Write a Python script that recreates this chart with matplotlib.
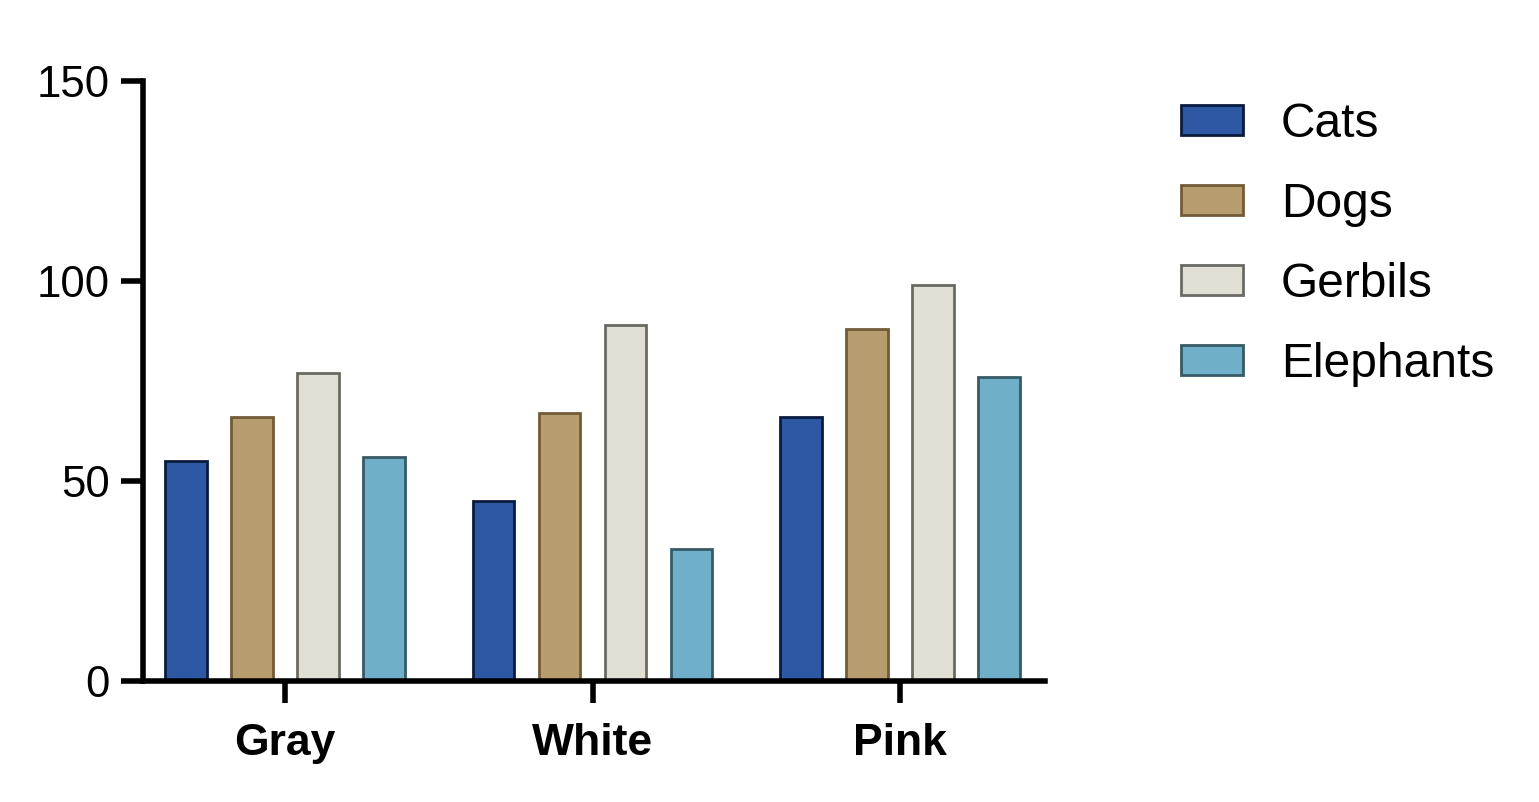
import matplotlib
matplotlib.use("Agg")
import matplotlib.pyplot as plt
import numpy as np

plt.rcParams['font.family'] = ['Liberation Sans', 'DejaVu Sans']

categories = ["Gray", "White", "Pink"]
series_names = ["Cats", "Dogs", "Gerbils", "Elephants"]
cats = [55, 45, 66]
dogs = [66, 67, 88]
gerbils = [77, 89, 99]
elephants = [56, 33, 76]
series_values = [cats, dogs, gerbils, elephants]
yticks = [0, 50, 100, 150]

fills = ["#2E58A3", "#B69C6F", "#E2DFD5", "#70AFCA"]
edges = ["#0A1C3D", "#725B35", "#6A6A64", "#365A66"]

fig = plt.figure(figsize=(15.39, 8.02), dpi=100)
ax = fig.add_axes([143/1539, 1-681/802, (1045-143)/1539, 600/802])

x = np.arange(len(categories))
pitch = 0.2146
width = 0.134
for i, (name, vals) in enumerate(zip(series_names, series_values)):
    ax.bar(x + (i - 1.5) * pitch, vals, width, color=fills[i], edgecolor=edges[i],
           linewidth=2.0, label=name, zorder=2)

ax.set_ylim(0, 150)
ax.set_xlim(-0.4618, 2.4715)
ax.set_yticks(yticks)
ax.set_yticklabels([str(t) for t in yticks], fontsize=31.5)
ax.set_xticks(x)
ax.set_xticklabels(categories, fontsize=32, fontweight='bold')

for s in ['top', 'right']:
    ax.spines[s].set_visible(False)
for s in ['left', 'bottom']:
    ax.spines[s].set_linewidth(4)
    ax.spines[s].set_zorder(3)
ax.tick_params(axis='both', width=4, length=16, color='black')
ax.tick_params(axis='y', pad=8)
ax.tick_params(axis='x', pad=14)

leg = ax.legend(loc='upper left', bbox_to_anchor=(1181/1539, 1-102/802),
                bbox_transform=fig.transFigure, frameon=False, fontsize=34.5,
                handlelength=1.29, handleheight=0.6, handletextpad=0.79,
                labelspacing=0.73, borderpad=0, borderaxespad=0)

fig.savefig("out.png", dpi=100)
